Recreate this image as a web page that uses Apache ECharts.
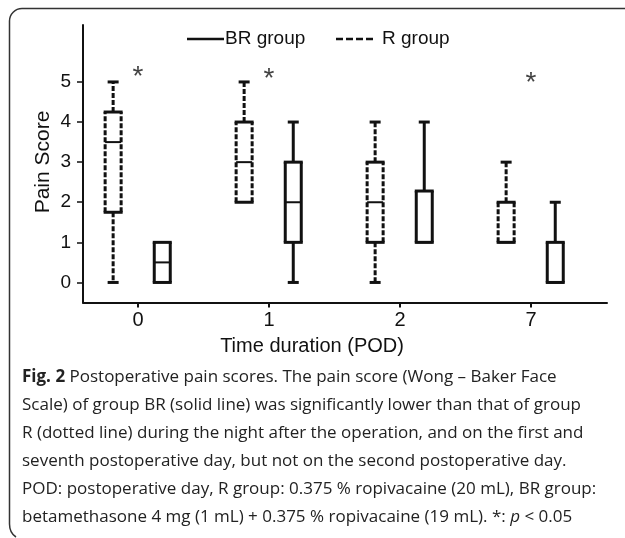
<!DOCTYPE html>
<html>
<head>
<meta charset="utf-8">
<script src="https://cdn.jsdelivr.net/npm/echarts@6/dist/echarts.min.js"></script>
<style>
html,body{margin:0;padding:0;background:#fff;}
#main{width:625px;height:538px;}
</style>
</head>
<body>
<div id="main"></div>
<script>
// ---- data ----
const categories = ['0', '1', '2', '7'];
const yTicks = [0, 1, 2, 3, 4, 5];
// R group (dotted line): min, Q1, median, Q3, max
const rMin = [0, 2, 0, 1];
const rQ1  = [1.75, 2, 1, 1];
const rMed = [3.5, 3, 2, 1];
const rQ3  = [4.25, 4, 3, 2];
const rMax = [5, 5, 4, 3];
// BR group (solid line)
const brMin = [0, 0, 1, 0];
const brQ1  = [0, 1, 1, 0];
const brMed = [0.5, 2, 1, 0];
const brQ3  = [1, 3, 2.28, 1];
const brMax = [1, 4, 4, 2];
// significance markers (category index, height)
const starCat = [0, 1, 3];
const starY = [5.3, 5.25, 5.15];
const captionLines = [
  'Scale) of group BR (solid line) was significantly lower than that of group',
  'R (dotted line) during the night after the operation, and on the first and',
  'seventh postoperative day, but not on the second postoperative day.',
  'POD: postoperative day, R group: 0.375 % ropivacaine (20 mL), BR group:'
];

// ---- build ----
const catIdx = categories.map((c, i) => i);
function rows(mn, q1, md, q3, mx) {
  return catIdx.map(i => [i, mn[i], q1[i], md[i], q3[i], mx[i]]);
}
const INK = '#111';
function boxRenderer(offset, dashed) {
  return function (params, api) {
    const x = api.value(0) + offset;
    const vMin = api.value(1), vQ1 = api.value(2), vMed = api.value(3), vQ3 = api.value(4), vMax = api.value(5);
    const pMin = api.coord([x, vMin]);
    const cx = pMin[0];
    const yMin = pMin[1];
    const yQ1 = api.coord([x, vQ1])[1];
    const yMed = api.coord([x, vMed])[1];
    const yQ3 = api.coord([x, vQ3])[1];
    const yMax = api.coord([x, vMax])[1];
    const hw = 8, cw = 5.5;
    const dashStyle = dashed ? { stroke: INK, lineWidth: 3, lineDash: [5, 2] } : { stroke: INK, lineWidth: 3 };
    const solidStyle = { stroke: INK, lineWidth: 3 };
    const ch = [];
    function line(x1, y1, x2, y2, st) {
      ch.push({ type: 'line', shape: { x1: x1, y1: y1, x2: x2, y2: y2 }, style: st });
    }
    if (vMin < vQ1) {
      line(cx, yQ1, cx, yMin, dashStyle);
      line(cx - cw, yMin, cx + cw, yMin, solidStyle);
    }
    if (vMax > vQ3) {
      line(cx, yQ3, cx, yMax, dashStyle);
      line(cx - cw, yMax, cx + cw, yMax, solidStyle);
    }
    line(cx - hw, yQ1, cx - hw, yQ3, dashStyle);
    line(cx + hw, yQ1, cx + hw, yQ3, dashStyle);
    line(cx - hw - 1.5, yQ1, cx + hw + 1.5, yQ1, solidStyle);
    line(cx - hw - 1.5, yQ3, cx + hw + 1.5, yQ3, solidStyle);
    line(cx - hw, yMed, cx + hw, yMed, { stroke: INK, lineWidth: 2 });
    return { type: 'group', children: ch };
  };
}

const chart = echarts.init(document.getElementById('main'), null, { renderer: 'canvas' });
const axisFont = 'Liberation Sans, Arial, sans-serif';
const capFont = '"Open Sans", "Noto Sans", sans-serif';

const frameStyle = { stroke: '#333', lineWidth: 1.5, fill: null };
const graphics = [
  // frame
  { type: 'polyline', shape: { points: [[9.5, 524], [9.5, 21]] }, style: frameStyle },
  { type: 'arc', shape: { cx: 22, cy: 21, r: 12.5, startAngle: Math.PI, endAngle: Math.PI * 1.5, clockwise: true }, style: frameStyle },
  { type: 'polyline', shape: { points: [[22, 8.5], [625, 8.5]] }, style: frameStyle },
  { type: 'bezierCurve', shape: { x1: 9.5, y1: 524, cpx1: 9.5, cpy1: 533, x2: 16, y2: 537 }, style: frameStyle },
  // legend
  { type: 'line', shape: { x1: 187, y1: 39, x2: 224, y2: 39 }, style: { stroke: INK, lineWidth: 2.5 } },
  { type: 'text', x: 225, y: 39, style: { text: 'BR group', font: '19px ' + axisFont, fill: INK, textVerticalAlign: 'middle' } },
  { type: 'line', shape: { x1: 336, y1: 39, x2: 376, y2: 39 }, style: { stroke: INK, lineWidth: 2.5, lineDash: [7, 3] } },
  { type: 'text', x: 382, y: 39, style: { text: 'R group', font: '19px ' + axisFont, fill: INK, textVerticalAlign: 'middle' } },
  // axis titles
  { type: 'text', x: 312, y: 346, style: { text: 'Time duration (POD)', font: '20px ' + axisFont, fill: INK, textAlign: 'center', textVerticalAlign: 'middle' } },
  { type: 'text', x: 43, y: 162, rotation: Math.PI / 2, style: { text: 'Pain Score', font: '21px ' + axisFont, fill: INK, textAlign: 'center', textVerticalAlign: 'middle' } },
  // caption
  { type: 'text', x: 22, y: 377, style: {
      text: '{b|Fig. 2} Postoperative pain scores. The pain score (Wong – Baker Face',
      rich: { b: { font: 'bold 17px ' + capFont, fill: '#222' } },
      font: '17px ' + capFont, fill: '#222', textVerticalAlign: 'middle' } }
];
captionLines.forEach((t, i) => {
  graphics.push({ type: 'text', x: 22, y: 405 + 28 * i, style: { text: t, font: '17px ' + capFont, fill: '#222', textVerticalAlign: 'middle' } });
});
graphics.push({ type: 'text', x: 22, y: 517, style: {
  text: 'betamethasone 4 mg (1 mL) + 0.375 % ropivacaine (19 mL). *: {i|p} < 0.05',
  rich: { i: { font: 'italic 17px ' + capFont, fill: '#222' } },
  font: '17px ' + capFont, fill: '#222', textVerticalAlign: 'middle' } });

chart.setOption({
  animation: false,
  backgroundColor: '#fff',
  grid: { left: 83, right: 18, top: 25, bottom: 235.5, containLabel: false },
  xAxis: {
    type: 'value', min: -0.42, max: 3.58,
    splitLine: { show: false },
    axisLine: { show: true, onZero: false, lineStyle: { color: INK, width: 2 } },
    axisTick: { show: true, customValues: catIdx, length: 5, lineStyle: { color: INK, width: 2 } },
    axisLabel: { show: true, customValues: catIdx, margin: 8, fontSize: 20, fontFamily: axisFont, color: INK,
      formatter: v => categories[Math.round(v)] }
  },
  yAxis: {
    type: 'value', min: -0.5, max: 6.42,
    splitLine: { show: false },
    axisLine: { show: true, onZero: false, lineStyle: { color: INK, width: 2 } },
    axisTick: { show: true, customValues: yTicks, length: 6, lineStyle: { color: INK, width: 1.5 } },
    axisLabel: { show: true, customValues: yTicks, margin: 12, fontSize: 19, fontFamily: axisFont, color: INK }
  },
  series: [
    { name: 'R group', type: 'custom', renderItem: boxRenderer(-0.19, true),
      encode: { x: 0, y: [1, 2, 3, 4, 5] }, data: rows(rMin, rQ1, rMed, rQ3, rMax), z: 3 },
    { name: 'BR group', type: 'custom', renderItem: boxRenderer(0.185, false),
      encode: { x: 0, y: [1, 2, 3, 4, 5] }, data: rows(brMin, brQ1, brMed, brQ3, brMax), z: 3 },
    { name: 'sig', type: 'scatter', symbolSize: 0,
      data: starCat.map((c, i) => [c, starY[i]]),
      label: { show: true, position: 'inside', formatter: '*', fontSize: 28, fontFamily: axisFont, color: INK, offset: [0, 7] } }
  ],
  graphic: graphics
});
</script>
</body>
</html>
